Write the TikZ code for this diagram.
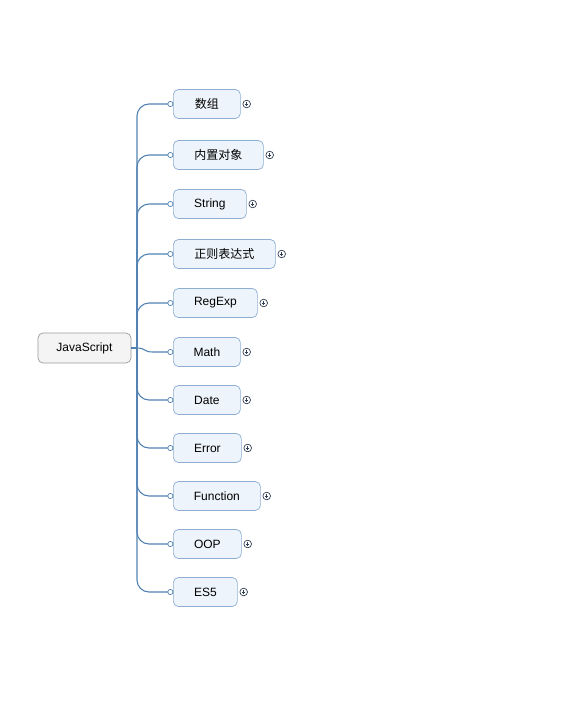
\documentclass[tikz,border=0pt]{standalone}
\usepackage{fontspec}
\usetikzlibrary{calc}
\setmainfont{Liberation Sans}
\newfontfamily\cjk{Noto Sans CJK SC}
\definecolor{linec}{HTML}{5282B3}
\definecolor{childfill}{HTML}{EEF4FB}
\definecolor{childdraw}{HTML}{8DAED3}
\definecolor{rootfill}{HTML}{F4F4F4}
\definecolor{rootdraw}{HTML}{9A9A9A}
\definecolor{expc}{HTML}{2F3E52}
\begin{document}
\begin{tikzpicture}[x=1pt,y=-1pt,
  rootbox/.style={draw=rootdraw, fill=rootfill, rounded corners=5pt, line width=0.7pt,
    minimum width=93pt, minimum height=30pt, inner sep=0pt, font=\fontsize{12}{14}\selectfont},
  childbox/.style={draw=childdraw, fill=childfill, rounded corners=5pt, line width=0.7pt,
    minimum height=29pt, inner sep=0pt, anchor=west, font=\fontsize{12}{14}\selectfont},
  conn/.style={draw=linec, line width=1.1pt, rounded corners=12pt},
  endc/.style={draw=linec, fill=white, line width=0.7pt},
  expander/.style={draw=expc, fill=white, line width=0.7pt}
]
\useasboundingbox (0,0) rectangle (560,712);
\node[rootbox] (root) at (84.5,348) {JavaScript};
\coordinate (trunk) at (137,348);
\foreach \i/\t/\w/\y in {1/{\cjk 数组}/67/104, 2/{\cjk 内置对象}/90/155, 3/String/73/204,
  4/{\cjk 正则表达式}/102/254, 5/RegExp/84/303, 6/Math/67/352, 7/Date/67/400,
  8/Error/68/448, 9/Function/87/496, 10/OOP/68/544, 11/ES5/64/592}{
  \node[childbox, minimum width=\w pt] (c\i) at (173,\y) {\t};
}
\draw[conn, rounded corners=0pt] (root.east) -- (trunk);
\foreach \i in {1,2,3,4,5,7,8,9,10,11}{
  \draw[conn] (trunk) |- (c\i.west);
}
\draw[conn, rounded corners=0pt] (trunk) .. controls (146,348) and (143,352) .. (153,352) -- (c6.west);
\foreach \i in {1,...,11}{
  \fill[endc] (c\i.west) ++(-2.6,0) circle (2.6);
  \path (c\i.east) ++(6,0) coordinate (e\i);
  \filldraw[expander] (e\i) circle (3.8);
  \draw[expc, line width=0.6pt] ($(e\i)+(-1.6,0)$) -- ($(e\i)+(1.6,0)$);
  \draw[expc, line width=0.6pt] ($(e\i)+(0,-1.6)$) -- ($(e\i)+(0,1.6)$);
}
\end{tikzpicture}
\end{document}
